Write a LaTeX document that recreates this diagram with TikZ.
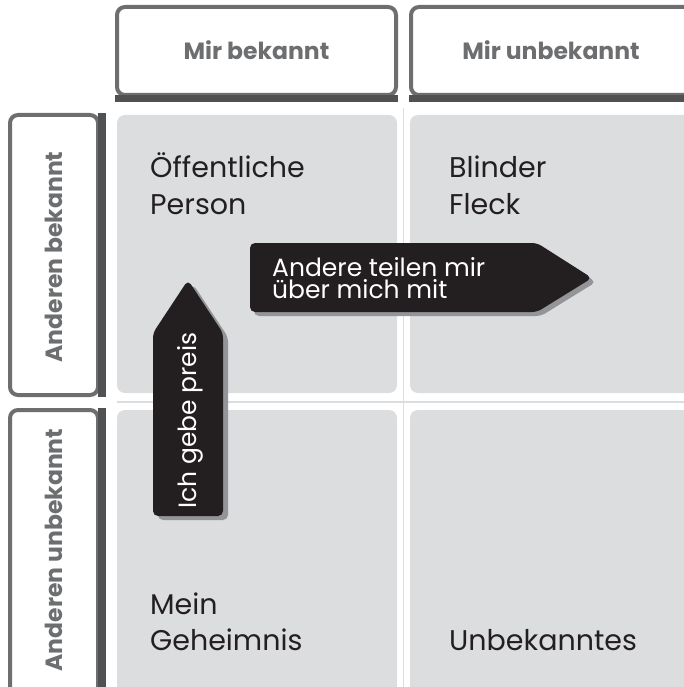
\documentclass[tikz,border=0pt]{standalone}
\usepackage{fontspec}
\setmainfont{Poppins}
\definecolor{rahmen}{HTML}{6D6E70}
\definecolor{schatten}{HTML}{505153}
\definecolor{feld}{HTML}{DCDDDF}
\definecolor{pfeil}{HTML}{231F20}
\definecolor{pfeilschatten}{HTML}{939598}
\begin{document}
\begin{tikzpicture}[x=1pt,y=-1pt,
    cellbox/.style={fill=feld,rounded corners=8pt},
    headbox/.style={draw=rahmen,line width=4pt,fill=white,rounded corners=8pt},
    headtext/.style={text=rahmen,inner sep=0pt,font=\fontsize{23.5}{26}\selectfont\bfseries},
    celltext/.style={text=pfeil,anchor=base west,align=left,inner sep=0pt,font=\fontsize{28.5}{36}\selectfont},
    arrowtext/.style={text=white,align=left,inner sep=0pt,font=\fontsize{25}{21.5}\selectfont},
    arrowbody/.style={fill=pfeil,rounded corners=5pt}]
        \useasboundingbox (0,0) rectangle (684,687);
        %% Felder
        \fill[cellbox] (117,115) rectangle (397,393);
        \fill[cellbox] (410,115) rectangle (700,393);
        \fill[cellbox] (117,410) rectangle (397,700);
        \fill[cellbox] (410,410) rectangle (700,700);
        \draw[feld,line width=1.5pt] (403.5,108) -- (403.5,700);
        \draw[feld,line width=1.5pt] (117,402) -- (700,402);
        %% Kopfzeile
        \draw[headbox] (117,7) rectangle (396,95);
        \fill[schatten] (115,95) rectangle (398,102);
        \node[headtext,anchor=base] (mirbek) at (256.5,60) {Mir bekannt};
        \draw[headbox] (411,7) rectangle (700,95);
        \fill[schatten] (409,95) rectangle (700,102);
        \node[headtext,anchor=base] (mirunbek) at (551,60) {Mir unbekannt};
        %% Seitenspalte
        \draw[headbox] (10,115) rectangle (98,395);
        \fill[schatten] (98,113) rectangle (106,397);
        \node[headtext,rotate=90,anchor=base] (andbek) at (62,257) {Anderen bekannt};
        \draw[headbox] (10,410) rectangle (98,700);
        \fill[schatten] (98,408) rectangle (106,700);
        \node[headtext,rotate=90,anchor=base] (andunbek) at (62,550) {Anderen unbekannt};
        %% Texte in den Feldern
        \node[celltext] (oeff) at (150,214) {Öffentliche\\Person};
        \node[celltext] (blind) at (449,214) {Blinder\\Fleck};
        \node[celltext] (geheim) at (150,650) {Mein\\Geheimnis};
        \node[celltext] (unbek) at (449,650) {Unbekanntes};
        %% Pfeil nach rechts
        \fill[pfeilschatten,rounded corners=5pt,shift={(4,4)}]
            (250,243) -- (537,243) -- (592,278) -- (537,312) -- (250,312) -- cycle;
        \fill[arrowbody]
            (250,243) -- (537,243) -- (592,278) -- (537,312) -- (250,312) -- cycle;
        \node[arrowtext,anchor=base west] (teilen) at (272,298)
            {Andere teilen mir\\über mich mit};
        %% Pfeil nach oben
        \fill[pfeilschatten,rounded corners=5pt,shift={(5,4)}]
            (153,516) -- (153,333) -- (188,280) -- (223,333) -- (223,516) -- cycle;
        \fill[arrowbody]
            (153,516) -- (153,333) -- (188,280) -- (223,333) -- (223,516) -- cycle;
        \node[arrowtext,rotate=90,anchor=base west] (preis) at (196,509) {Ich gebe preis};
    \end{tikzpicture}
\end{document}
